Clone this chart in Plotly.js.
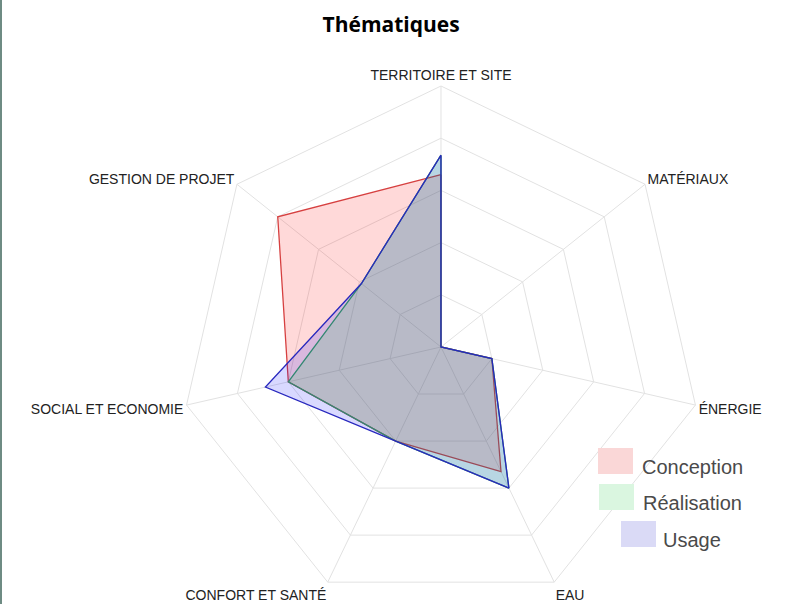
<!DOCTYPE html>
<html>
<head>
<meta charset="utf-8">
<script src="https://cdn.plot.ly/plotly-3.0.1.min.js"></script>
<style>
html,body{margin:0;padding:0;overflow:hidden;background:#fff;}
#chart{width:795px;height:620px;}
#edge{position:absolute;left:0;top:0;width:2px;height:604px;background:#6e8b83;}
</style>
</head>
<body>
<div id="chart"></div>
<div id="edge"></div>
<script>
const categories = ["TERRITOIRE ET SITE", "MATÉRIAUX", "ÉNERGIE", "EAU", "CONFORT ET SANTÉ", "SOCIAL ET ECONOMIE", "GESTION DE PROJET"];
const conception = [66, 0, 20, 53, 40, 60, 80];
const realisation = [73.5, 0, 20, 60, 40, 60, 39];
const usage = [73.5, 0, 20, 60, 40, 69, 39];
const seriesNames = ["Conception", "Réalisation", "Usage"];

function closed(arr){ return arr.concat([arr[0]]); }
const theta = closed(categories);

const H = 620;
const lineColors = ["rgb(214,64,64)", "rgb(60,160,90)", "rgb(40,40,190)"];
const fillColors = ["rgba(255,0,0,0.15)", "rgba(0,235,40,0.15)", "rgba(0,0,255,0.15)"];
const swatchColors = ["rgb(250,215,215)", "rgb(218,246,224)", "rgb(218,218,246)"];
const series = [conception, realisation, usage];

const traces = series.map((vals, i) => ({
  type: "scatterpolar",
  r: closed(vals),
  theta: theta,
  name: seriesNames[i],
  mode: "lines",
  fill: "toself",
  fillcolor: fillColors[i],
  line: {color: lineColors[i], width: 1.3},
  hoverinfo: "skip",
  showlegend: false
}));

// custom legend (big swatches as in the reference)
const legendPos = [
  {sx: 598, sy: 448, tx: 640, ty: 467},
  {sx: 599, sy: 484, tx: 641, ty: 503},
  {sx: 621, sy: 521, tx: 661, ty: 540}
];
const shapes = legendPos.map((p, i) => ({
  type: "rect", xref: "paper", yref: "paper",
  x0: p.sx/795, x1: (p.sx+35)/795,
  y0: 1 - (p.sy+26)/H, y1: 1 - p.sy/H,
  fillcolor: swatchColors[i], line: {width: 0}, layer: "above"
}));
const annotations = legendPos.map((p, i) => ({
  text: seriesNames[i], xref: "paper", yref: "paper",
  x: p.tx/795, y: 1 - p.ty/H, xanchor: "left", yanchor: "middle",
  showarrow: false,
  font: {family: "Liberation Sans, Arial, sans-serif", size: 20, color: "#4a4a4a"}
}));

const layout = {
  width: 795,
  height: H,
  margin: {l: 0, r: 0, t: 0, b: 0},
  paper_bgcolor: "#ffffff",
  font: {family: "Liberation Sans, Arial, sans-serif", color: "#333"},
  title: {
    text: "<b>Thématiques</b>",
    font: {family: "Open Sans, sans-serif", size: 21, color: "#000"},
    x: 0.492, xanchor: "center",
    y: 1 - 25/H, yanchor: "middle"
  },
  showlegend: false,
  shapes: shapes,
  annotations: annotations,
  polar: {
    domain: {x: [0.2264, 0.8830], y: [0.01935, 0.8613]},
    gridshape: "linear",
    bgcolor: "#ffffff",
    radialaxis: {
      range: [0, 100],
      dtick: 20,
      showticklabels: false,
      ticks: "",
      showline: false,
      gridcolor: "#e2e2e2",
      gridwidth: 1
    },
    angularaxis: {
      rotation: 90,
      direction: "clockwise",
      categoryorder: "array",
      categoryarray: categories,
      ticks: "",
      linecolor: "#e2e2e2",
      gridcolor: "#e2e2e2",
      tickfont: {family: "Liberation Sans, Arial, sans-serif", size: 14, color: "#222"}
    }
  }
};

Plotly.newPlot("chart", traces, layout, {displayModeBar: false, staticPlot: true});
</script>
</body>
</html>
